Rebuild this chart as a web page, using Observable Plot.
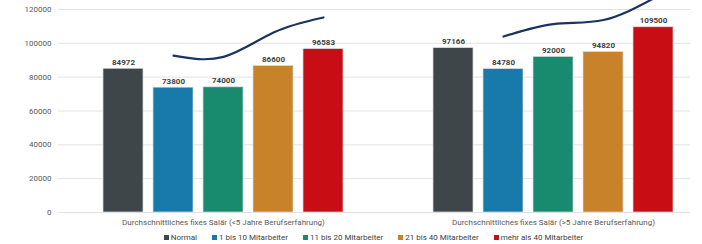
<!DOCTYPE html>
<html><head><meta charset="utf-8">
<script src="https://cdn.jsdelivr.net/npm/d3@7"></script>
<script src="https://cdn.jsdelivr.net/npm/@observablehq/plot@0.6"></script>
<style>
body{margin:0;background:#fff;font-family:Roboto,sans-serif;}
#wrap{width:702px;}
#legend{width:633px;margin-left:57px;display:flex;justify-content:center;gap:15px;font-family:Roboto,sans-serif;font-size:8px;color:#404040;height:12px;line-height:12px;}
#legend span.sw{display:inline-block;width:5px;height:5px;margin-right:2px;vertical-align:0px;}
</style></head><body><div id="wrap"><div id="chart"></div><div id="legend"></div></div>
<script>
const groups = ["Durchschnittliches fixes Salär (<5 Jahre Berufserfahrung)", "Durchschnittliches fixes Salär (>5 Jahre Berufserfahrung)"];
const series = ["Normal", "1 bis 10 Mitarbeiter", "11 bis 20 Mitarbeiter", "21 bis 40 Mitarbeiter", "mehr als 40 Mitarbeiter"];
const colors = ["#3e4649", "#187aab", "#188a6d", "#c8822a", "#c90d14"];
const valuesShort = [84972, 73800, 74000, 86600, 96583];
const valuesLong = [97166, 84780, 92000, 94820, 109500];
const trendSeries = ["1 bis 10 Mitarbeiter", "11 bis 20 Mitarbeiter", "21 bis 40 Mitarbeiter", "mehr als 40 Mitarbeiter"];
const trendShort = [92700, 92000, 106400, 115300];
const trendLong = [104000, 111400, 113800, 126500];
const yTicks = [0, 20000, 40000, 60000, 80000, 100000, 120000];

const bars = [];
series.forEach((s, i) => {
  bars.push({group: groups[0], series: s, value: valuesShort[i]});
  bars.push({group: groups[1], series: s, value: valuesLong[i]});
});
const trend = [];
trendSeries.forEach((s, i) => trend.push({group: groups[0], series: s, value: trendShort[i]}));
trendSeries.forEach((s, i) => trend.push({group: groups[1], series: s, value: trendLong[i]}));

const plot = Plot.plot({
  width: 690, height: 232,
  marginTop: 9, marginBottom: 20, marginLeft: 57, marginRight: 0,
  style: {fontFamily: "Roboto, sans-serif", fontSize: "8px", color: "#595959", background: "white", overflow: "hidden"},
  fx: {domain: groups, range: [57, 718], padding: 0, label: null},
  x: {domain: series, paddingInner: 0.2, paddingOuter: 0.87, axis: null},
  y: {domain: [0, 120000], label: null, axis: null},
  color: {domain: series, range: colors},
  marks: [
    Plot.ruleY(yTicks, {stroke: "#e2e2e2", strokeWidth: 1}),
    Plot.axisY({ticks: yTicks, tickFormat: d => String(d), tickSize: 0, tickPadding: 7, label: null, fontSize: 8, fill: "#595959"}),
    Plot.axisFx({anchor: "bottom", tickSize: 0, tickPadding: 7, label: null, fontSize: 8, fill: "#595959"}),
    Plot.barY(bars, {fx: "group", x: "series", y: "value", fill: "series", stroke: "#dcdcdc", strokeWidth: 0.7}),
    Plot.text(bars, {fx: "group", x: "series", y: "value", text: d => String(d.value), dy: -4, lineAnchor: "bottom", fontWeight: "bold", fontSize: 8, fill: "#404040"}),
    Plot.line(trend, {fx: "group", x: "series", y: "value", curve: "natural", stroke: "#1b3360", strokeWidth: 2.2})
  ]
});
document.getElementById("chart").appendChild(plot);

const legend = document.getElementById("legend");
series.forEach((s, i) => {
  const item = document.createElement("div");
  item.innerHTML = `<span class="sw" style="background:${colors[i]}"></span>${s}`;
  legend.appendChild(item);
});
</script></body></html>
